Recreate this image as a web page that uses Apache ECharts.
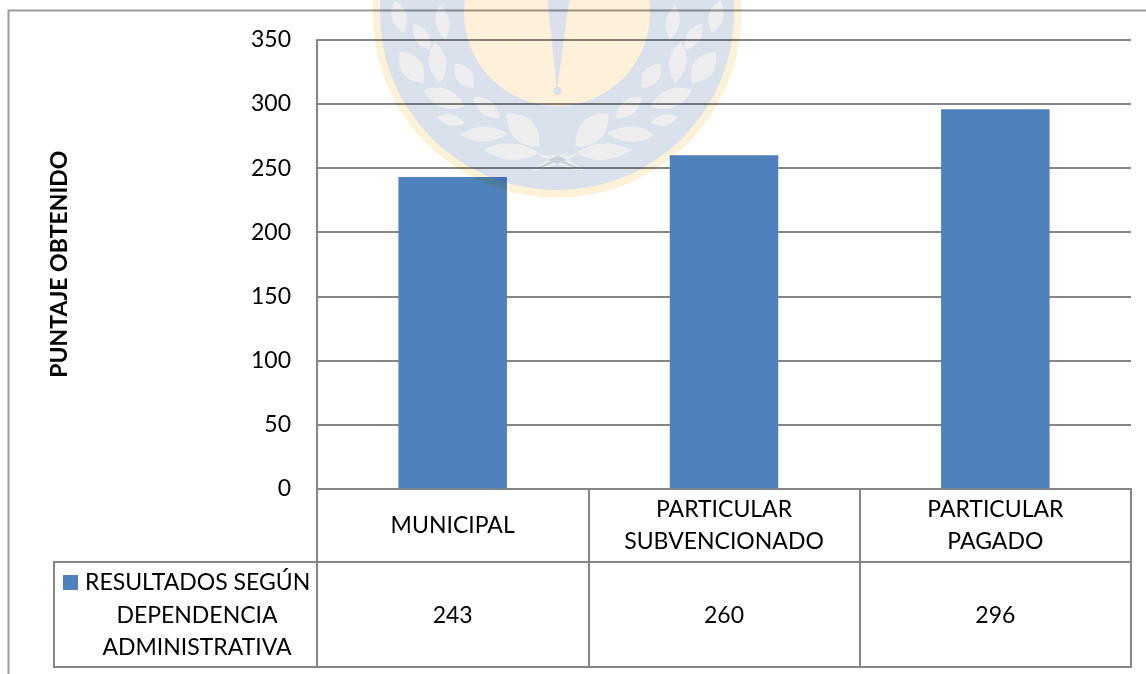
<!DOCTYPE html>
<html><head><meta charset="utf-8">
<style>html,body{margin:0;padding:0;background:#fff}#c{width:1146px;height:674px}</style>
<script src="https://cdn.jsdelivr.net/npm/echarts@6/dist/echarts.min.js"></script>
</head><body><div id="c"></div>
<script>
const categories = ['MUNICIPAL', 'PARTICULAR\nSUBVENCIONADO', 'PARTICULAR\nPAGADO'];
const values = [243, 260, 296];
const seriesName = 'RESULTADOS SEGÚN DEPENDENCIA ADMINISTRATIVA';
const legendLines = ['RESULTADOS SEGÚN', 'DEPENDENCIA', 'ADMINISTRATIVA'];
const yAxisTitle = 'PUNTAJE OBTENIDO';

const FONT = 'Lato';
const LINE = '#868686';
const TEXT = '#000000';
const SIZE = 23;

// Decorative crest behind the chart
const CX = 557, CY = 13;
const leaves = [ // base x,y, tip x,y, half-width (zoom crop coordinates)
  [250,250,180,155,34],[300,250,285,125,28],[400,265,345,190,26],[375,320,250,270,30],
  [480,355,400,290,24],[375,370,290,350,18],[505,400,360,405,24],[600,440,500,340,38],
  [600,460,430,450,26],[270,150,220,70,22],[315,120,300,15,22],[190,100,165,0,24],
  [570,515,720,460,8],[730,510,620,460,8]
];
function leafPath(l) {
  const [ax, ay, bx, by, w] = l.map((v, i) => i === 4 ? v / 3 * 1.9 : (i % 2 === 0 ? 340 + v / 3 : v / 3));
  const dx = bx - ax, dy = by - ay, n = Math.hypot(dx, dy);
  const px = -dy / n * w, py = dx / n * w, mx = (ax + bx) / 2, my = (ay + by) / 2;
  return `M${ax} ${ay}Q${mx + px} ${my + py} ${bx} ${by}Q${mx - px} ${my - py} ${ax} ${ay}Z`;
}
const mirror = l => [1306 - l[0], l[1], 1306 - l[2], l[3], l[4]];
const leafData = leaves.concat(leaves.map(mirror)).map(leafPath).join('');
const cw = (r, cx = CX, cy = CY) => `M${cx - r} ${cy}A${r} ${r} 0 1 1 ${cx + r} ${cy}A${r} ${r} 0 1 1 ${cx - r} ${cy}Z`;
const ccw = (r, cx = CX, cy = CY) => `M${cx - r} ${cy}A${r} ${r} 0 1 0 ${cx + r} ${cy}A${r} ${r} 0 1 0 ${cx - r} ${cy}Z`;
const spike = `M547 -5L557 90L570 -5Z`;
const ball = ccw(4, 557.5, 91);
let crestCount = 0;
const mult = (d, fill) => {
  const name = 'crest' + (crestCount++);
  echarts.graphic.registerShape(name, echarts.graphic.extendPath(d, {}));
  return { type: name, z: 100, silent: true, shape: {}, style: { fill, blend: 'multiply' } };
};

const chart = echarts.init(document.getElementById('c'), null, { renderer: 'canvas' });
chart.setOption({
  animation: false,
  backgroundColor: '#fff',
  textStyle: { fontFamily: FONT },
  grid: [
    { left: 317, top: 40, width: 814, height: 448.5, show: false },
    { left: 317, top: 562, width: 814, height: 105, show: false }
  ],
  xAxis: [
    {
      gridIndex: 0, type: 'category', data: categories,
      axisLine: { lineStyle: { color: LINE, width: 2 } },
      axisTick: { show: true, length: 74, lineStyle: { color: LINE, width: 2 } },
      axisLabel: { color: TEXT, fontFamily: FONT, fontSize: SIZE, lineHeight: 32, verticalAlign: 'middle', margin: 37, interval: 0 }
    },
    {
      gridIndex: 1, type: 'category', data: values.map(String),
      axisLine: { lineStyle: { color: LINE, width: 2 } },
      axisTick: { show: false },
      splitLine: { show: true, interval: 0, lineStyle: { color: LINE, width: 2 } },
      axisLabel: { inside: true, color: TEXT, fontFamily: FONT, fontSize: SIZE, verticalAlign: 'middle', margin: 51, interval: 0 }
    }
  ],
  yAxis: [
    {
      gridIndex: 0, type: 'value', min: 0, max: 350, interval: 50,
      name: yAxisTitle, nameLocation: 'middle', nameGap: 246, nameRotate: 90,
      nameTextStyle: { color: TEXT, fontFamily: FONT, fontSize: SIZE, fontWeight: 'bold' },
      axisLine: { show: true, lineStyle: { color: LINE, width: 2 } },
      axisTick: { show: false },
      axisLabel: { color: TEXT, fontFamily: FONT, fontSize: SIZE, margin: 26, padding: [2, 0, 0, 0] },
      splitLine: { show: true, lineStyle: { color: LINE, width: 2 } }
    },
    { gridIndex: 1, type: 'value', min: 0, max: 1, show: false }
  ],
  legend: {
    left: 63, top: 571, orient: 'vertical', itemWidth: 15, itemHeight: 15, itemGap: 0,
    icon: 'rect', padding: 0, selectedMode: false,
    formatter: () => legendLines[0],
    textStyle: { color: TEXT, fontFamily: FONT, fontSize: SIZE, padding: [0, 0, 0, 2] }
  },
  series: [{
    name: seriesName, type: 'bar', xAxisIndex: 0, yAxisIndex: 0, data: values,
    barWidth: '40%', itemStyle: { color: '#4f81bd' }
  }],
  graphic: [
    mult(cw(184.5) + ccw(177), '#fdf1d8'),
    mult(cw(177) + ccw(93) + leafData, '#d8e1ec'),
    mult(cw(93) + spike + ball, '#fff0da'),
    mult(leafData, '#eeeeee'),
    mult(spike + ball, '#d8e1ec'),
    { type: 'polyline', silent: true, z: 90, shape: { points: [[8.5, 674], [8.5, 10.5], [1146, 10.5]] }, style: { fill: 'none', stroke: '#9a9a9a', lineWidth: 2 } },
    { type: 'rect', silent: true, z: 90, shape: { x: 54, y: 562, width: 263, height: 105 }, style: { fill: 'none', stroke: LINE, lineWidth: 2 } },
    { type: 'line', silent: true, z: 90, shape: { x1: 317, y1: 562, x2: 1132, y2: 562 }, style: { stroke: LINE, lineWidth: 2 } },
    { type: 'line', silent: true, z: 90, shape: { x1: 317, y1: 667, x2: 1132, y2: 667 }, style: { stroke: LINE, lineWidth: 2 } },
    { type: 'line', silent: true, z: 90, shape: { x1: 1131, y1: 562, x2: 1131, y2: 667 }, style: { stroke: LINE, lineWidth: 2 } },
    ...legendLines.slice(1).map((t, i) => ({
      type: 'text', silent: true, z: 90, x: 197, y: 616 + i * 32,
      style: { text: t, fill: TEXT, font: `${SIZE}px ${FONT}`, align: 'center', verticalAlign: 'middle' }
    }))
  ]
});
</script></body></html>
